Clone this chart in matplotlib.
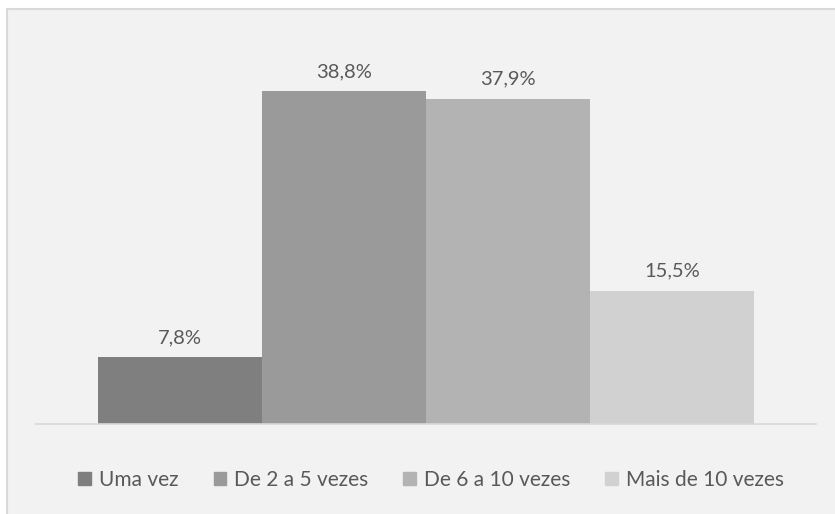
import matplotlib.pyplot as plt
from matplotlib.patches import Rectangle

# dados
categorias = ['Uma vez', 'De 2 a 5 vezes', 'De 6 a 10 vezes', 'Mais de 10 vezes']
valores = [7.8, 38.8, 37.9, 15.5]
rotulos = ['7,8%', '38,8%', '37,9%', '15,5%']
cores = ['#7f7f7f', '#9a9a9a', '#b3b3b3', '#d1d1d1']

plt.rcParams['font.family'] = ['Lato', 'DejaVu Sans']

W, H = 835, 514
fig = plt.figure(figsize=(W / 100, H / 100), dpi=100, facecolor='white')

# fundo cinza com borda (só aparece em cima e à esquerda)
fig.patches.append(Rectangle((7 / W, -0.1), 1.2, 1.1 - 9 / H, transform=fig.transFigure,
                             facecolor='#f2f2f2', edgecolor='#d9d9d9', linewidth=1.5, zorder=-5))

ax = fig.add_axes([36 / W, (H - 424) / H, 780 / W, 364 / H])
ax.set_facecolor('none')
ax.set_zorder(2)

x = range(len(valores))
bars = ax.bar(x, valores, width=1.0, color=cores, label=categorias)

for i, b in enumerate(bars):
    ax.annotate(rotulos[i], (b.get_x() + b.get_width() / 2, b.get_height()),
                xytext=(0, 8), textcoords='offset points', ha='center', va='bottom',
                fontsize=14.5, color='#595959')

ax.set_xlim(-0.5 - 62 / 164, 3.5 + 62 / 164)
ax.set_ylim(0, 364 / (333 / 38.8))
ax.set_xticks([])
ax.set_yticks([])
for s in ['top', 'right', 'left']:
    ax.spines[s].set_visible(False)
ax.spines['bottom'].set_color('#d9d9d9')
ax.spines['bottom'].set_linewidth(1.2)

handles = [Rectangle((0, 0), 1, 1, color=c) for c in cores]
fig.legend(handles, categorias, loc='center', bbox_to_anchor=(431 / W, 1 - 480 / H),
           ncol=4, frameon=False, fontsize=15, labelcolor='#595959',
           handlelength=0.62, handleheight=0.62, handletextpad=0.35, columnspacing=1.7)

plt.savefig('out.png', dpi=100, facecolor=fig.get_facecolor())
